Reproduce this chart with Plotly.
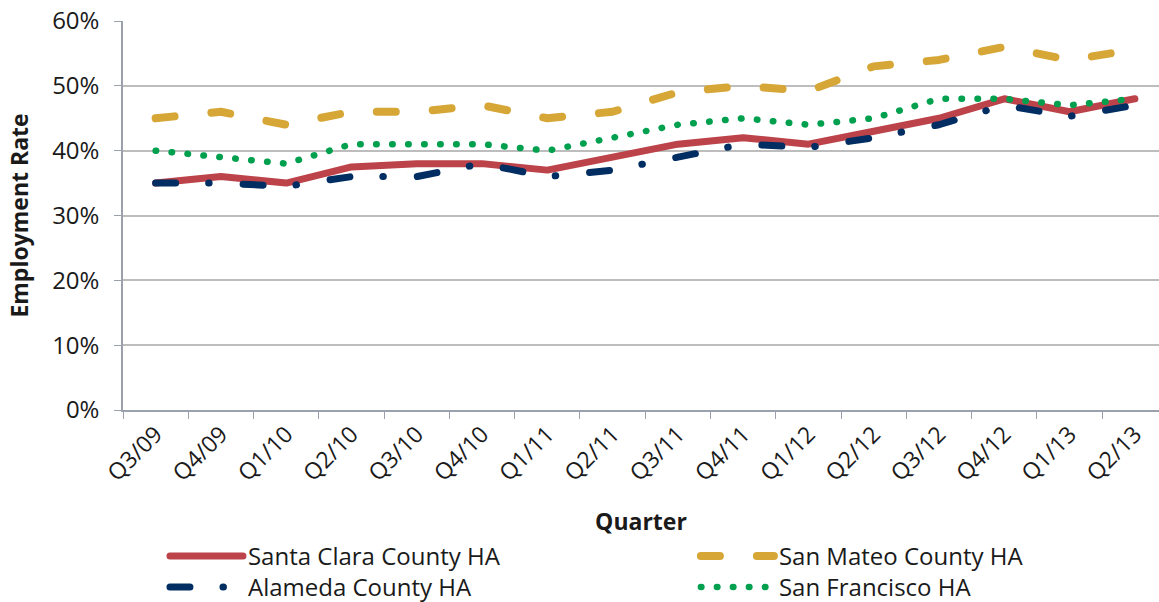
import plotly.graph_objects as go

quarters = ["Q3/09", "Q4/09", "Q1/10", "Q2/10", "Q3/10", "Q4/10", "Q1/11", "Q2/11",
            "Q3/11", "Q4/11", "Q1/12", "Q2/12", "Q3/12", "Q4/12", "Q1/13", "Q2/13"]
santa_clara = [35, 36, 35, 37.5, 38, 38, 37, 39, 41, 42, 41, 43, 45, 48, 46, 48]
san_mateo = [45, 46, 44, 46, 46, 47, 45, 46, 49, 50, 49.2, 53, 54, 56, 54, 55.6]
alameda = [35, 35, 34.5, 36, 36, 38, 36, 37, 39, 41, 40.5, 42, 44, 47, 45.3, 47]
san_francisco = [40, 39, 38, 41, 41, 41, 40, 42, 44, 45, 44, 45, 48, 48, 47, 48]
y_ticks = [0, 10, 20, 30, 40, 50, 60]
y_tick_labels = ["0%", "10%", "20%", "30%", "40%", "50%", "60%"]

FONT = "Open Sans"
AXIS = "#9aa1ad"

fig = go.Figure()
fig.add_trace(go.Scatter(x=quarters, y=santa_clara, name="Santa Clara County HA", mode="lines",
                         line=dict(color="#BC4349", width=7), legend="legend"))
fig.add_trace(go.Scatter(x=quarters, y=san_mateo, name="San Mateo County HA", mode="lines",
                         line=dict(color="#D6A636", width=8, dash="19px,37px"), legend="legend2"))
fig.add_trace(go.Scatter(x=quarters, y=alameda, name="Alameda County HA", mode="lines",
                         line=dict(color="#002D62", width=7, dash="20px,33px,0.5px,34px"),
                         legend="legend3"))
fig.add_trace(go.Scatter(x=quarters, y=san_francisco, name="San Francisco HA", mode="lines",
                         line=dict(color="#00A04F", width=6.5, dash="0.5px,15.5px"),
                         legend="legend4"))

legend_common = dict(orientation="v", yanchor="top", xanchor="left", itemwidth=73,
                     font=dict(family=FONT, size=24, color="#1a1a1a"), tracegroupgap=0,
                     bgcolor="rgba(0,0,0,0)")

ROW1 = -0.3188
ROW2 = -0.3985
COL1 = 0.0405
COL2 = 0.553

fig.update_layout(
    width=1159, height=602,
    margin=dict(l=123, r=0, t=21, b=192, autoexpand=False),
    plot_bgcolor="white", paper_bgcolor="white",
    font=dict(family=FONT, color="#1a1a1a"),
    showlegend=True,
    legend=dict(x=COL1, y=ROW1, **legend_common),
    legend2=dict(x=COL2, y=ROW1, **legend_common),
    legend3=dict(x=COL1, y=ROW2, **legend_common),
    legend4=dict(x=COL2, y=ROW2, **legend_common),
    xaxis=dict(type="category", range=[-0.5, 15.37], tickson="boundaries",
               ticks="outside", ticklen=7, tickcolor=AXIS, showline=True,
               linecolor=AXIS, linewidth=1.5, showgrid=False, tickangle=-45,
               tickfont=dict(family=FONT, size=23, color="#1a1a1a"),
               title=dict(text="<b>Quarter</b>", font=dict(family=FONT, size=23), standoff=27)),
    yaxis=dict(range=[0, 60], tickvals=y_ticks, ticktext=y_tick_labels, ticks="outside",
               ticklen=7, tickcolor=AXIS, showline=True, linecolor=AXIS, linewidth=1.5,
               showgrid=True, gridcolor="#bdbdbd", gridwidth=1.5, zeroline=False,
               ticklabelstandoff=10,
               tickfont=dict(family=FONT, size=24, color="#1a1a1a"),
               title=dict(text="<b>Employment Rate</b>", font=dict(family=FONT, size=23),
                          standoff=17)),
)

post = ("document.body.style.margin='0';document.body.style.overflow='hidden';"
        "document.querySelectorAll('path.js-line').forEach(function(p){"
        "p.style.strokeLinecap='round';p.style.strokeLinejoin='round';});")
fig.write_html("out.html", post_script=post, config={"displayModeBar": False})
